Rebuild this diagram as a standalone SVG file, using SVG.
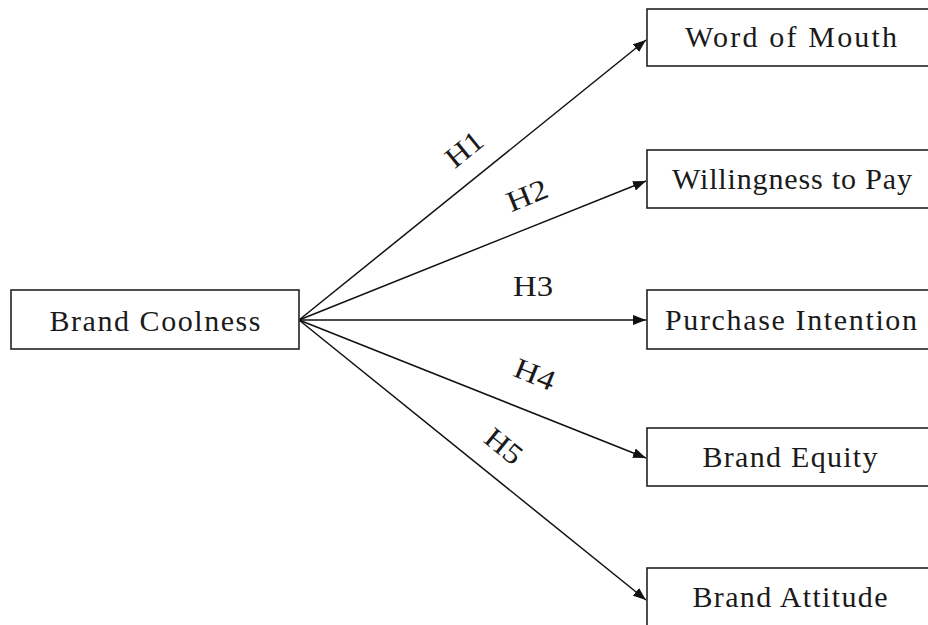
<svg xmlns="http://www.w3.org/2000/svg" width="928" height="625" viewBox="0 0 928 625">
<style>
.box{fill:#fff;stroke:#222;stroke-width:1.6}
.t{font-family:"Liberation Serif","DejaVu Serif",serif;font-size:30px;fill:#1a1a1a;text-anchor:middle}
.h{font-family:"Liberation Serif","DejaVu Serif",serif;font-size:29px;fill:#1a1a1a;text-anchor:middle}
.c{stroke:#111;stroke-width:1.5;fill:none;marker-end:url(#ah)}
</style>
<defs>
<marker id="ah" markerUnits="userSpaceOnUse" markerWidth="14" markerHeight="10" refX="13" refY="5" orient="auto">
<path d="M0,0 L13,5 L0,10 z" fill="#111"/>
</marker>
</defs>
<rect width="928" height="625" fill="#fff"/>
<g id="connectors">
<line class="c" x1="299" y1="320" x2="646" y2="40"/>
<line class="c" x1="299" y1="320" x2="646" y2="181"/>
<line class="c" x1="299" y1="320" x2="646" y2="320"/>
<line class="c" x1="299" y1="320" x2="646" y2="458"/>
<line class="c" x1="299" y1="320" x2="646" y2="600"/>
<text class="h" transform="translate(464,149) rotate(-39)" y="10" textLength="40" lengthAdjust="spacingAndGlyphs">H1</text>
<text class="h" transform="translate(527,195) rotate(-22)" y="10" textLength="42" lengthAdjust="spacingAndGlyphs">H2</text>
<text class="h" x="533" y="296" textLength="40" lengthAdjust="spacingAndGlyphs">H3</text>
<text class="h" transform="translate(535,374) rotate(22)" y="10" textLength="42" lengthAdjust="spacingAndGlyphs">H4</text>
<text class="h" transform="translate(504,446) rotate(39)" y="10" textLength="40" lengthAdjust="spacingAndGlyphs">H5</text>
</g>
<g id="brand-coolness">
<rect class="box" x="11" y="290" width="288" height="59"/>
<text class="t" x="155" y="331" textLength="211" lengthAdjust="spacing">Brand Coolness</text>
</g>
<g id="word-of-mouth">
<rect class="box" x="647" y="9" width="290" height="57"/>
<text class="t" x="791" y="47" textLength="212" lengthAdjust="spacing">Word of Mouth</text>
</g>
<g id="willingness-to-pay">
<rect class="box" x="647" y="150" width="290" height="58"/>
<text class="t" x="792" y="189" textLength="240" lengthAdjust="spacing">Willingness to Pay</text>
</g>
<g id="purchase-intention">
<rect class="box" x="647" y="290" width="290" height="59"/>
<text class="t" x="791" y="330" textLength="252" lengthAdjust="spacing">Purchase Intention</text>
</g>
<g id="brand-equity">
<rect class="box" x="647" y="428" width="290" height="58"/>
<text class="t" x="790" y="467" textLength="175" lengthAdjust="spacing">Brand Equity</text>
</g>
<g id="brand-attitude">
<rect class="box" x="647" y="568" width="290" height="70"/>
<text class="t" x="790" y="607" textLength="195" lengthAdjust="spacing">Brand Attitude</text>
</g>
</svg>
